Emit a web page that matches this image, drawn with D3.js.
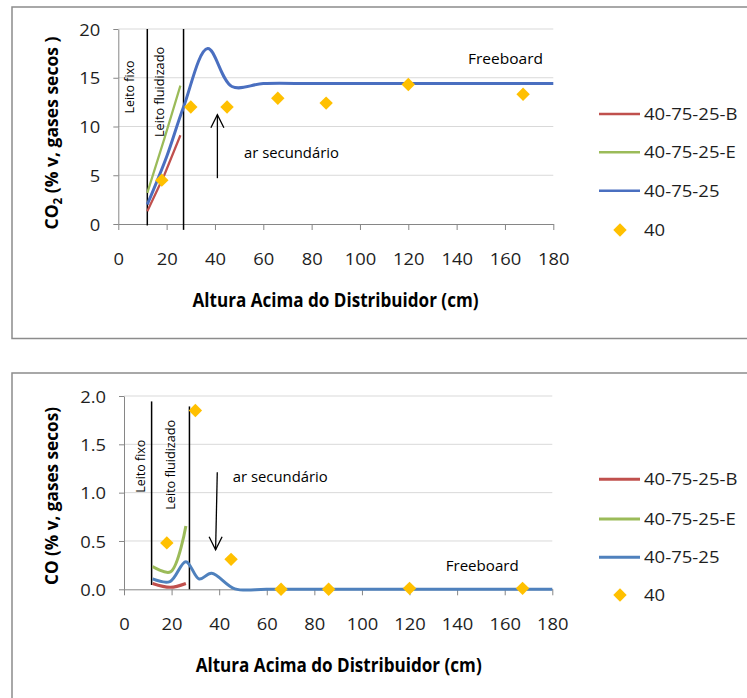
<!DOCTYPE html>
<html>
<head>
<meta charset="utf-8">
<script src="https://cdn.jsdelivr.net/npm/d3@7"></script>
<style>
  html, body { margin: 0; padding: 0; background: #fff; }
  svg { display: block; font-family: "Open Sans", "Noto Sans", sans-serif; }
</style>
</head>
<body>
<svg id="chart" width="747" height="698"></svg>
<script>
// Sampling heights above the distributor (cm) for the measured series "40"
const heights = [18, 30, 45, 66, 86, 120, 167.5];

// CO2 panel (% v, dry gases)
const co2Measured = [4.5, 12.0, 12.0, 12.9, 12.4, 14.3, 13.3];
const co2BedX = [12, 19, 25.7];
const co2CaseB = [1.3, 5.0, 9.1];
const co2CaseE = [3.2, 8.7, 14.2];
const co2ModelX = [12, 20, 27, 37, 47, 60, 80, 100, 120, 140, 160, 180];
const co2Model = [2.0, 6.9, 12.0, 18.0, 14.1, 14.4, 14.4, 14.4, 14.4, 14.4, 14.4, 14.4];
const co2Ticks = [0, 5, 10, 15, 20];

// CO panel (% v, dry gases)
const coMeasured = [0.48, 1.85, 0.31, 0.0, 0.0, 0.01, 0.01];
const coBedX = [12, 19.5, 26];
const coCaseB = [0.06, 0.02, 0.06];
const coCaseE = [0.235, 0.18, 0.656];
const coModelX = [12, 19.3, 26, 31.6, 36.8, 46.6, 60, 80, 100, 120, 140, 160, 180];
const coModel = [0.107, 0.08, 0.286, 0.107, 0.166, 0.005, 0, 0, 0, 0, 0, 0, 0];
const coTicks = [0, 0.5, 1.0, 1.5, 2.0];

const xTicks = [0, 20, 40, 60, 80, 100, 120, 140, 160, 180];
const seriesNames = ["40-75-25-B", "40-75-25-E", "40-75-25", "40"];
const xTitle = "Altura Acima do Distribuidor (cm)";

// Zone boundaries (fixed bed / fluidized bed) and annotations, in data units
const co2Zones = [{x: 12, y0: -0.15, y1: 20}, {x: 27, y0: -0.6, y1: 20}];
const coZones = [{x: 11.6, y0: 0.045, y1: 1.944}, {x: 27.5, y0: 0, y1: 1.892}];

const co2Notes = [
  {text: "Leito fixo", x: 6.6, y: 14.05, rot: true, w: 53},
  {text: "Leito fluidizado", x: 18.8, y: 13.54, rot: true, w: 90},
  {text: "ar secundário", x: 52.0, y: 6.8, rot: false, w: 95},
  {text: "Freeboard", x: 144.7, y: 16.4, rot: false, w: 75}
];
const coNotes = [
  {text: "Leito fixo", x: 8.7, y: 1.273, rot: true, w: 53},
  {text: "Leito fluidizado", x: 21.5, y: 1.288, rot: true, w: 90},
  {text: "ar secundário", x: 45.7, y: 1.115, rot: false, w: 95},
  {text: "Freeboard", x: 135.2, y: 0.19, rot: false, w: 73}
];
const co2Arrow = {x0: 41, y0: 4.7, x1: 41, y1: 11.2};
const coArrow = {x0: 39.2, y0: 1.21, x1: 38.5, y1: 0.41};

const colors = {B: "#C0504D", E: "#9BBB59", M: "#4F81BD", P: "#FFC000"};

const svg = d3.select("#chart");

function fit(sel, w) {
  sel.attr("textLength", w).attr("lengthAdjust", "spacingAndGlyphs");
}
function stretch(sel, k) {
  sel.each(function () {
    const L = this.getComputedTextLength();
    d3.select(this).attr("textLength", L * k).attr("lengthAdjust", "spacingAndGlyphs");
  });
}

function drawPanel(p) {
  const g = svg.append("g");

  // panel frame
  g.append("rect")
    .attr("x", p.frame[0]).attr("y", p.frame[1])
    .attr("width", p.frame[2]).attr("height", p.frame[3])
    .attr("fill", "#fff").attr("stroke", "#8c8c8c").attr("stroke-width", 1.5);

  const x = d3.scaleLinear().domain([0, 180]).range(p.xRange);
  const y = d3.scaleLinear().domain([p.yTicks[0], p.yTicks[p.yTicks.length - 1]]).range(p.yRange);

  // horizontal gridlines
  g.append("g").selectAll("line")
    .data(p.yTicks.slice(1))
    .join("line")
    .attr("x1", x(0)).attr("x2", x(180))
    .attr("y1", d => y(d)).attr("y2", d => y(d))
    .attr("stroke", "#d9d9d9").attr("stroke-width", 1);

  // axes
  const yAxis = g.append("g")
    .attr("transform", `translate(${x(0)},0)`)
    .call(d3.axisLeft(y).tickValues(p.yTicks).tickSize(5).tickSizeOuter(0).tickFormat(p.fmt));
  const xAxis = g.append("g")
    .attr("transform", `translate(0,${y(0)})`)
    .call(d3.axisBottom(x).tickValues(xTicks).tickSize(6).tickSizeOuter(0).tickFormat(d3.format("d")));

  [xAxis, yAxis].forEach(a => {
    a.select(".domain").attr("stroke", "#868686");
    a.selectAll(".tick line").attr("stroke", "#868686");
    a.selectAll(".tick text")
      .attr("fill", "#1e1e1e")
      .attr("font-family", "'Open Sans', sans-serif")
      .attr("font-size", 17);
  });
  yAxis.selectAll(".tick text").attr("x", -18).attr("dy", "0.36em");
  xAxis.selectAll(".tick text").attr("y", 41).attr("dy", 0);
  stretch(xAxis.selectAll(".tick text"), 1.08);
  stretch(yAxis.selectAll(".tick text"), 1.08);

  // zone boundary lines
  g.append("g").selectAll("line")
    .data(p.zones)
    .join("line")
    .attr("x1", d => x(d.x)).attr("x2", d => x(d.x))
    .attr("y1", d => y(d.y0)).attr("y2", d => y(d.y1))
    .attr("stroke", "#000").attr("stroke-width", 1.5);

  // series lines
  const lineOf = (xs, ys, curve) => d3.line()
    .x((d, i) => x(xs[i]))
    .y(d => y(d))
    .curve(curve)(ys);

  const smooth = d3.curveCatmullRom.alpha(0.5);
  g.append("path").attr("d", lineOf(p.bedX, p.caseB, p.bedCurve))
    .attr("fill", "none").attr("stroke", colors.B).attr("stroke-width", p.bedWidth);
  g.append("path").attr("d", lineOf(p.bedX, p.caseE, p.bedCurve))
    .attr("fill", "none").attr("stroke", colors.E).attr("stroke-width", p.bedWidth);
  g.append("path").attr("d", lineOf(p.modelX, p.model, smooth))
    .attr("fill", "none").attr("stroke", p.modelColor).attr("stroke-width", 3);

  // measured points
  const diamond = d3.symbol().type(d3.symbolSquare).size(90);
  g.append("g").selectAll("path")
    .data(p.measured)
    .join("path")
    .attr("d", diamond)
    .attr("transform", (d, i) => `translate(${x(heights[i])},${y(d)}) rotate(45)`)
    .attr("fill", colors.P);

  // annotations
  p.notes.forEach(n => {
    const t = g.append("text")
      .attr("fill", "#000")
      .text(n.text);
    if (n.rot) {
      t.attr("font-size", 12)
        .attr("text-anchor", "middle")
        .attr("transform", `translate(${x(n.x)},${y(n.y)}) rotate(-90)`);
    } else {
      t.attr("font-size", 14)
        .attr("x", x(n.x)).attr("y", y(n.y));
    }
    fit(t, n.w);
  });

  // secondary air arrow
  const a = p.arrow;
  const ax0 = x(a.x0), ay0 = y(a.y0), ax1 = x(a.x1), ay1 = y(a.y1);
  const dir = ay1 < ay0 ? 1 : -1;
  g.append("line")
    .attr("x1", ax0).attr("y1", ay0).attr("x2", ax1).attr("y2", ay1)
    .attr("stroke", "#000").attr("stroke-width", 1.3);
  g.append("path")
    .attr("d", `M${ax1 - 6.5},${ay1 + dir * 13} L${ax1},${ay1} L${ax1 + 6.5},${ay1 + dir * 13}`)
    .attr("fill", "none").attr("stroke", "#000").attr("stroke-width", 1.3);

  // axis titles
  const yt = g.append("text")
    .attr("font-weight", "bold").attr("font-size", 18)
    .attr("text-anchor", "middle")
    .attr("fill", "#000")
    .attr("transform", `translate(${p.yTitlePos[0]},${p.yTitlePos[1]}) rotate(-90)`);
  p.yTitle.forEach(part => {
    const ts = yt.append("tspan").text(part.t);
    if (part.sub) ts.attr("font-size", 12).attr("dy", 4);
    if (part.after) ts.attr("dy", -4);
  });
  fit(yt, p.yTitleW);

  const xt = g.append("text")
    .attr("font-weight", "bold").attr("font-size", 19)
    .attr("text-anchor", "middle")
    .attr("fill", "#000")
    .attr("x", p.xTitlePos[0]).attr("y", p.xTitlePos[1])
    .text(xTitle);
  fit(xt, 286);

  // legend
  const lg = g.append("g");
  const legColors = [colors.B, colors.E, p.modelColor];
  p.legendY.forEach((ly, i) => {
    if (i < 3) {
      lg.append("line")
        .attr("x1", 599).attr("x2", 640).attr("y1", ly).attr("y2", ly)
        .attr("stroke", legColors[i]).attr("stroke-width", p.legendWidth);
    } else {
      lg.append("path").attr("d", diamond)
        .attr("transform", `translate(620,${ly}) rotate(45)`)
        .attr("fill", colors.P);
    }
    const lt = lg.append("text")
      .attr("x", 644).attr("y", ly + 6)
      .attr("font-size", 17).attr("fill", "#1e1e1e")
      .text(seriesNames[i]);
    stretch(lt, 1.09);
  });
}

drawPanel({
  frame: [12, 7, 760, 331.5],
  xRange: [118.3, 553.3],
  yRange: [224, 29],
  yTicks: co2Ticks,
  fmt: d3.format("d"),
  bedX: co2BedX, caseB: co2CaseB, caseE: co2CaseE,
  bedCurve: d3.curveLinear, bedWidth: 2.25,
  modelX: co2ModelX, model: co2Model, modelColor: "#4A6FC0",
  measured: co2Measured,
  zones: co2Zones,
  notes: co2Notes,
  arrow: co2Arrow,
  yTitle: [{t: "CO"}, {t: "2", sub: true}, {t: " (% v, gases secos )", after: true}],
  yTitlePos: [58, 133], yTitleW: 193,
  xTitlePos: [335.5, 306.5],
  legendY: [114, 152.3, 190.7, 230],
  legendWidth: 2.5
});

drawPanel({
  frame: [12, 373, 760, 400],
  xRange: [124, 552.3],
  yRange: [589.3, 396],
  yTicks: coTicks,
  fmt: d3.format(".1f"),
  bedX: coBedX, caseB: coCaseB, caseE: coCaseE,
  bedCurve: d3.curveCatmullRom.alpha(0.5), bedWidth: 3,
  modelX: coModelX, model: coModel, modelColor: "#4F81BD",
  measured: coMeasured,
  zones: coZones,
  notes: coNotes,
  arrow: coArrow,
  yTitle: [{t: "CO (% v, gases secos)"}],
  yTitlePos: [58, 496], yTitleW: 178,
  xTitlePos: [338.7, 671.5],
  legendY: [479.3, 519, 557.3, 595],
  legendWidth: 3
});
</script>
</body>
</html>
